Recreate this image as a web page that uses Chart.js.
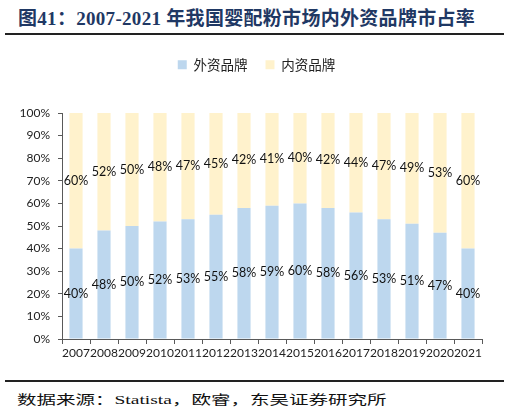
<!DOCTYPE html>
<html>
<head>
<meta charset="utf-8">
<script src="https://cdn.jsdelivr.net/npm/chart.js@4"></script>
<style>
  body { margin: 0; width: 509px; height: 414px; background: #fff; position: relative; overflow: hidden; }
  #title {
    position: absolute; left: 18px; top: 3px;
    font-family: "Liberation Serif", "Noto Sans CJK SC", serif;
    font-weight: bold; font-size: 19px; letter-spacing: 0.3px; color: #1f3864; white-space: nowrap;
  }
  .rule { position: absolute; left: 5px; width: 499px; height: 2px; background: #222; }
  #source {
    position: absolute; left: 17px; top: 389px;
    font-family: "Liberation Serif", "Noto Sans CJK SC", serif;
    font-size: 13px; color: #111; white-space: nowrap;
    transform: scaleX(1.5); transform-origin: left top;
  }
  #wrap { position: absolute; left: 0; top: 40px; width: 509px; height: 330px; }
</style>
</head>
<body>
<div id="title">图41：2007-2021 年我国婴配粉市场内外资品牌市占率</div>
<div class="rule" style="top:33px"></div>
<div id="wrap"><canvas id="shareChart"></canvas></div>
<div class="rule" style="top:380px"></div>
<div id="source">数据来源：Statista，欧睿，东吴证券研究所</div>

<script>
// Data
const years = ["2007", "2008", "2009", "2010", "2011", "2012", "2013", "2014",
               "2015", "2016", "2017", "2018", "2019", "2020", "2021"];
const foreignShare = [40, 48, 50, 52, 53, 55, 58, 59, 60, 58, 56, 53, 51, 47, 40];
const domesticShare = [60, 52, 50, 48, 47, 45, 42, 41, 40, 42, 44, 47, 49, 53, 60];
const yTicks = [0, 10, 20, 30, 40, 50, 60, 70, 80, 90, 100];

// Draw the % labels in the middle of each bar segment
const barLabels = {
  id: "barLabels",
  afterDatasetsDraw(chart) {
    let ctx = chart.ctx;
    ctx.save();
    ctx.font = "12.5px Lato, sans-serif";
    ctx.fillStyle = "#111";
    ctx.textAlign = "center";
    ctx.textBaseline = "middle";
    chart.data.datasets.forEach(function (ds, i) {
      chart.getDatasetMeta(i).data.forEach(function (bar, j) {
        let p = bar.getProps(["x", "y", "base"], true);
        ctx.fillText(ds.data[j] + "%", p.x, (p.y + p.base) / 2);
      });
    });
    ctx.restore();
  }
};

// Tall gap under the legend, and legend centred on the page like the original
const legendGap = {
  id: "legendGap",
  beforeInit(chart) {
    let fit = chart.legend.fit;
    chart.legend.fit = function () {
      fit.call(this);
      this.height = 73;
    };
  },
  afterLayout(chart) {
    chart.legend.left += 31;
  }
};

new Chart(document.getElementById("shareChart"), {
  type: "bar",
  data: {
    labels: years,
    datasets: [
      { label: "外资品牌", data: foreignShare, backgroundColor: "#bdd7ee" },
      { label: "内资品牌", data: domesticShare, backgroundColor: "#fff2cc" }
    ]
  },
  options: {
    responsive: true,
    maintainAspectRatio: false,
    animation: false,
    layout: { padding: { left: 0, right: 27, top: 0, bottom: 0 } },
    datasets: { bar: { barPercentage: 0.47, categoryPercentage: 1 } },
    plugins: {
      legend: {
        position: "top",
        labels: {
          boxWidth: 9, boxHeight: 9, padding: 18,
          color: "#222",
          font: { family: "'Noto Sans CJK SC', sans-serif", size: 13.5 }
        }
      },
      tooltip: { enabled: false }
    },
    scales: {
      x: {
        stacked: true,
        grid: { offset: true, drawOnChartArea: false, drawTicks: true, tickLength: 5, color: "#595959" },
        border: { color: "#595959" },
        ticks: {
          autoSkip: false, maxRotation: 0, minRotation: 0, padding: 2,
          color: "#222", font: { family: "Lato, sans-serif", size: 12 }
        },
        afterFit(scale) { scale.height = 31; }
      },
      y: {
        stacked: true,
        min: 0, max: 100,
        grid: { drawOnChartArea: false, drawTicks: true, tickLength: 4, color: "#595959" },
        border: { color: "#595959" },
        afterBuildTicks(scale) { scale.ticks = yTicks.map(v => ({ value: v })); },
        ticks: {
          padding: 8,
          color: "#222", font: { family: "Lato, sans-serif", size: 12 },
          callback: v => v + "%"
        },
        afterFit(scale) { scale.width = 62; }
      }
    }
  },
  plugins: [barLabels, legendGap]
});
</script>
</body>
</html>
